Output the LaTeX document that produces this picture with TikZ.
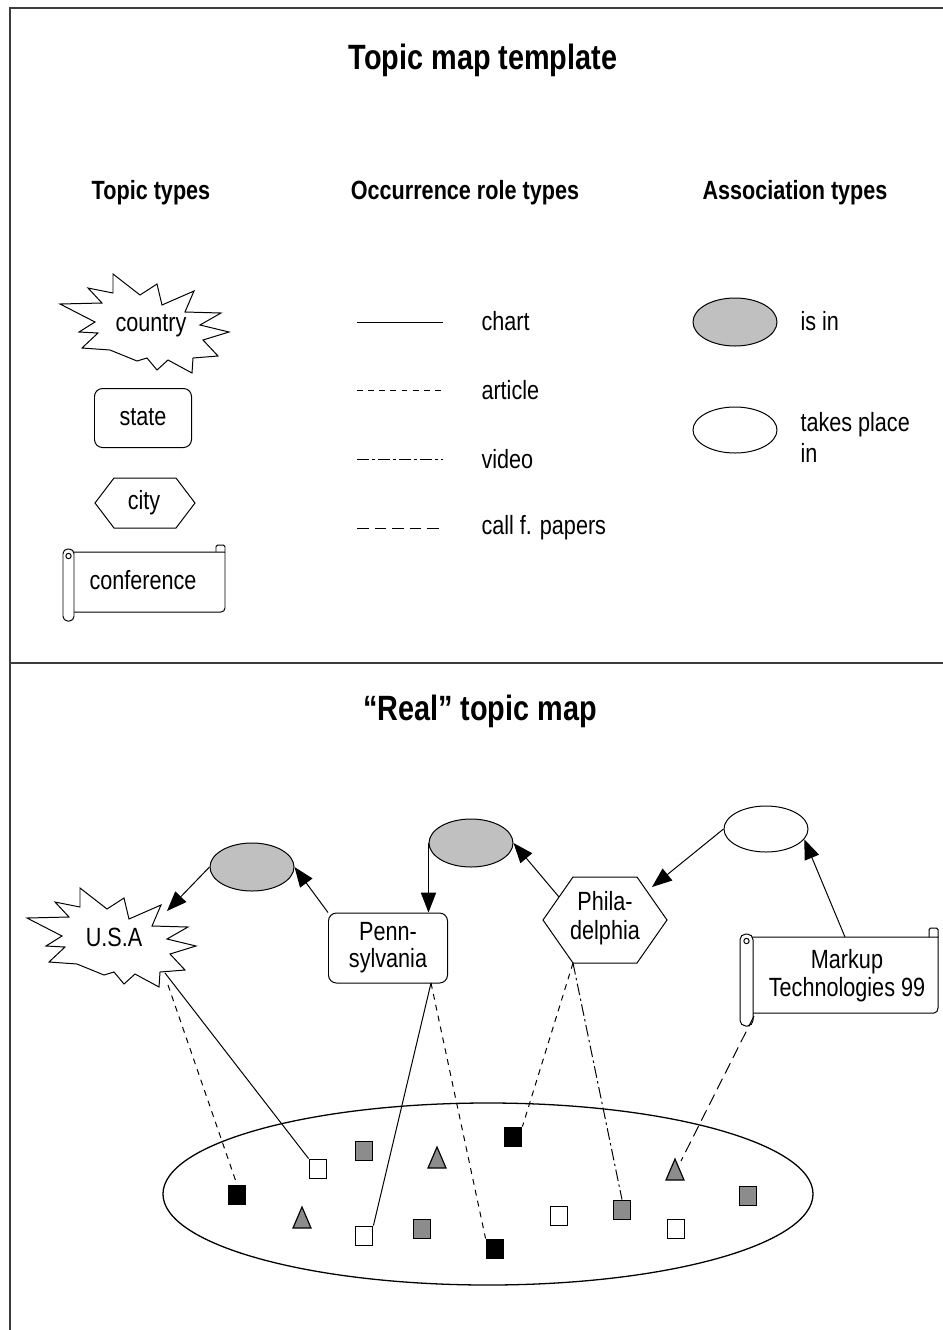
\documentclass[tikz,border=0pt]{standalone}
\usepackage{fontspec}
\setmainfont{Liberation Sans}[FakeStretch=0.82]
\usetikzlibrary{shapes.geometric,arrows.meta}
\definecolor{egray}{RGB}{192,192,192}
\definecolor{mgray}{RGB}{140,140,140}
\definecolor{framec}{RGB}{60,60,60}
\tikzset{
  txt/.style={font=\fontsize{22.5}{24}\selectfont, inner sep=0pt},
  hd/.style={font=\bfseries\fontsize{22.5}{26}\selectfont, inner sep=0pt},
  ttl/.style={font=\bfseries\fontsize{30}{34}\selectfont, inner sep=0pt},
  assoc/.style={ellipse, draw, minimum width=2.52cm, minimum height=1.44cm, inner sep=0pt},
  isin/.style={assoc, fill=egray},
  takes/.style={assoc, fill=white, minimum height=1.38cm},
  rbox/.style={draw, rounded corners=0.24cm, inner sep=0pt},
  arr/.style={-{Triangle[length=17pt,width=13pt]}},
  chart/.style={solid},
  article/.style={dash pattern=on 5pt off 4.5pt},
  video/.style={dash pattern=on 10pt off 3pt on 2pt off 3pt},
  callp/.style={dash pattern=on 10pt off 5pt},
  sq/.style={draw, minimum width=0.53cm, minimum height=0.59cm, inner sep=0pt, line width=1pt},
  blk/.style={sq, fill=black},
  wht/.style={sq, fill=white},
  gry/.style={sq, fill=mgray},
  tri/.style={draw, fill=mgray, line width=1pt},
  frame/.style={line width=2.1pt, draw=framec},
  burst/.pic={\draw[fill=white] (-84,-18) -- (-42,-19) -- (-56,-34) -- (-31,-29) -- (-31,-48)
     -- (-4,-27) -- (13,-38) -- (18,-17) -- (50,-31) -- (41,-10) -- (77,-9) -- (56,3)
     -- (85,10) -- (59,18) -- (74,34) -- (49,36) -- (48,51) -- (24,38) -- (13,48)
     -- (3,36) -- (-7,39) -- (-34,28) -- (-62,26) -- (-46,11) -- (-65,10) -- (-49,0) -- cycle;}
}
\begin{document}
\begin{tikzpicture}[x=0.03cm, y=-0.03cm, line width=0.85pt, line join=miter]
\useasboundingbox (0,0) rectangle (943,1330);
% frame
\draw[frame] (943,8) -- (10,8) -- (10,1330);
\draw[frame] (10,663) -- (943,663);

% ---------- template ----------
\node[ttl] (title1) at (483,60) {Topic map template};
\node[hd] (h1) at (151,193) {Topic types};
\node[hd] (h2) at (465,193) {Occurrence role types};
\node[hd] (h3) at (795,193) {Association types};

% topic types
\pic at (144,322) {burst};
\node[txt] (country) at (151,326) {country};
\node[rbox, minimum width=2.91cm, minimum height=1.77cm] (state) at (143,418) {};
\node[txt] (statet) at (143,417) {state};
\node[txt] (city) at (144,503) {city};
\draw[shift={(145,503)}] (-50,0) -- (-31,-25) -- (31,-25) -- (50,0) -- (31,25) -- (-31,25) -- cycle;
% conference scroll
\draw (69,552) -- (225,552) -- (225,608) to[out=-90,in=0] (221,612) -- (73,612);
\draw[rounded corners=0.05cm] (216,552) -- (216,545) -- (225,545) -- (225,552);
\draw[fill=white, rounded corners=0.14cm] (63,549) rectangle (74,621);
\draw (68.5,556) circle (0.08cm);
\node[txt] (conf) at (143,580) {conference};

% occurrence role types
\coordinate (c1a) at (357,322); \coordinate (c1b) at (443,322);
\coordinate (c2a) at (357,390); \coordinate (c2b) at (443,390);
\coordinate (c3a) at (357,459); \coordinate (c3b) at (443,459);
\coordinate (c4a) at (357,528); \coordinate (c4b) at (443,528);
\draw[chart] (c1a) -- (c1b);
\draw[article] (c2a) -- (c2b);
\draw[video] (c3a) -- (c3b);
\draw[callp] (c4a) -- (c4b);
\node[txt, anchor=west] (lchart) at (481,321) {chart};
\node[txt, anchor=west] (larticle) at (481,390) {article};
\node[txt, anchor=west] (lvideo) at (481,459) {video};
\node[txt, anchor=west] (lcall) at (481,528) {call f. papers};

% association types
\node[isin] (aisin) at (735,322) {};
\node[takes] (atakes) at (735,430) {};
\node[txt, anchor=west] (lisin) at (800,321) {is in};
\node[txt, anchor=west, align=left, font=\fontsize{22.5}{26.5}\selectfont] (ltakes) at (800,437) {takes place\\in};

% ---------- real topic map ----------
\node[ttl] (title2) at (480,711) {“Real” topic map};

\node[isin] (e1) at (252,867) {};
\node[isin] (e2) at (471,843) {};
\node[takes] (e3) at (766,829) {};

\pic at (111,936) {burst};
\node[txt] (usa) at (114,937) {U.S.A};

\node[rbox, minimum width=3.57cm, minimum height=2.1cm] (penn) at (388,948) {};
\node[txt, align=center, font=\fontsize{22.5}{23}\selectfont] (pennt) at (388,948) {Penn-\\sylvania};

\node[txt, align=center, font=\fontsize{22.5}{24.5}\selectfont] (phila) at (605,918) {Phila-\\delphia};
\draw[shift={(605,920)}] (-62,0) -- (-32,-43) -- (32,-43) -- (62,0) -- (32,43) -- (-32,43) -- cycle;

% markup scroll
\draw (746,937) -- (938,937) -- (938,1008) to[out=-90,in=0] (934,1013) -- (753,1013);
\draw[rounded corners=0.05cm] (929,937) -- (929,928) -- (938,928) -- (938,937);
\draw[fill=white, rounded corners=0.17cm] (740,934) rectangle (753,1026);
\draw (746.5,941) circle (0.08cm);
\node[txt, align=center, font=\fontsize{22.5}{24}\selectfont] (markup) at (847,976) {Markup\\Technologies 99};

% association arrows
\coordinate (usaA) at (167,911);
\coordinate (phA) at (559,897);
\coordinate (phB) at (652,887);
\coordinate (mkA) at (845,937);
\draw[arr] (e1.west) -- (usaA);
\draw[arr] (penn.north west) -- (e1.east);
\draw[arr] (e2.west) -- (e2.west |- penn.north);
\draw[arr] (phA) -- (e2.east);
\draw[arr] (e3.west) -- (phB);
\draw[arr] (mkA) -- (e3.-15);

% document pool
\node[ellipse, draw, line width=1.1pt, minimum width=19.5cm, minimum height=5.46cm, inner sep=0pt] (pool) at (488,1194) {};

% occurrence links
\coordinate (usaS) at (165,973);
\coordinate (usaD) at (168,985);
\coordinate (pennB) at (431,983);
\coordinate (phBot) at (573,963);
\coordinate (mkB) at (754,1016);
\coordinate (t3e) at (681,1161);

\node[blk] (b1) at (237,1195) {};
\node[wht] (w1) at (318,1169) {};
\node[gry] (g1) at (364,1151) {};
\node[blk] (b2) at (513,1137) {};
\node[wht] (w2) at (364,1236) {};
\node[gry] (g2) at (422,1229) {};
\node[blk] (b3) at (495,1249) {};
\node[wht] (w3) at (559,1216) {};
\node[gry] (g3) at (622,1210) {};
\node[wht] (w4) at (676,1229) {};
\node[gry] (g4) at (748,1196) {};

\draw[chart] (usaS) -- (w1.north west);
\draw[article] (usaD) -- (b1.north);
\draw[chart] (pennB) -- (w2.north east);
\draw[article] (pennB) -- (b3.north west);
\draw[article] (phBot) -- (b2.north east);
\draw[video] (phBot) -- (g3.north);
\draw[callp] (mkB) -- (t3e);

% triangles
\coordinate (t1) at (437,1158);
\coordinate (t2) at (302,1218);
\coordinate (t3) at (675,1170);
\draw[tri, shift={(t1)}] (-9,10) -- (0,-11) -- (9,10) -- cycle;
\draw[tri, shift={(t2)}] (-9,10) -- (0,-11) -- (9,10) -- cycle;
\draw[tri, shift={(t3)}] (-9,10) -- (0,-11) -- (9,10) -- cycle;
\end{tikzpicture}
\end{document}
